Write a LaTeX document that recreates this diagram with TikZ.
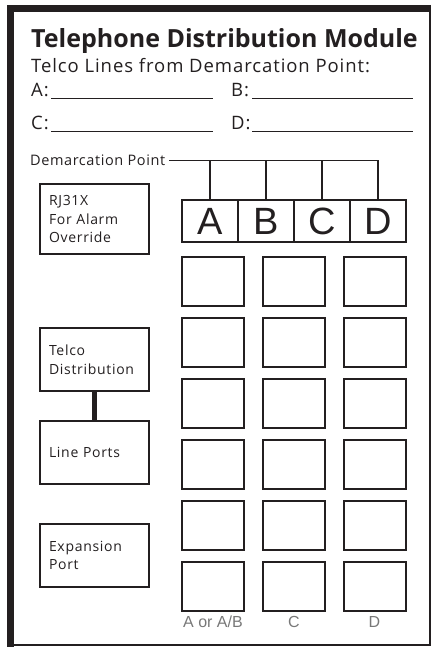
\documentclass[tikz,border=0pt]{standalone}
\usepackage{fontspec}
\setmainfont{Open Sans}
\newfontfamily\helv{Liberation Sans}
\usetikzlibrary{positioning}
\definecolor{ink}{RGB}{35,31,32}
\definecolor{faint}{RGB}{120,120,120}

\begin{document}
\begin{tikzpicture}[x=1pt, y=-1pt,
  sidebox/.style={draw=ink, line width=1.5pt, minimum width=109pt, minimum height=63pt,
    text width=91pt, inner xsep=9pt, align=left,
    font=\fontsize{14}{18.5}\selectfont\addfontfeatures{LetterSpace=5}, text=ink},
  port/.style={draw=ink, line width=2pt, minimum width=62pt, minimum height=49pt, inner sep=0pt},
  cell/.style={draw=ink, line width=1.5pt, minimum width=56pt, minimum height=42pt, inner sep=0pt,
    font=\helv\fontsize{38}{38}\selectfont, text=ink},
  wire/.style={draw=ink, line width=1.3pt},
  blank/.style={draw=ink, line width=1pt},
  collabel/.style={anchor=base, font=\helv\fontsize{16}{16}\selectfont, text=faint},
  label/.style={anchor=base west, inner sep=0pt, text=ink},
  lines/.style={label, font=\fontsize{18.5}{18.5}\selectfont\addfontfeatures{LetterSpace=5}}
]
\useasboundingbox (0,0) rectangle (434,647);
% frame
\fill[ink] (7,5) rectangle (14,647);
\fill[ink] (7,5) rectangle (431,12);
\draw[ink, line width=2pt] (430,5) -- (430,645) -- (7,645);
% heading
\node[label, font=\bfseries\fontsize{25}{25}\selectfont] (title) at (31,48) {Telephone Distribution Module};
\node[lines] (subtitle) at (31,73) {Telco Lines from Demarcation Point:};
\node[lines] (lineA) at (31,97) {A:};
\node[lines] (lineB) at (231,97) {B:};
\node[lines] (lineC) at (31,130) {C:};
\node[lines] (lineD) at (231,130) {D:};
\draw[blank] (51,98.5) -- (213,98.5);
\draw[blank] (252,98.5) -- (413,98.5);
\draw[blank] (51,131.5) -- (213,131.5);
\draw[blank] (252,131.5) -- (413,131.5);
% jacks A-D
\node[label, font=\fontsize{14.5}{15}\selectfont\addfontfeatures{LetterSpace=4}] (demarc) at (30,166) {Demarcation Point};
\foreach \n/\x in {A/210,B/266,C/322,D/378}
  \node[cell] (cell\n) at (\x,221) {\n};
\draw[wire] ([xshift=4pt]demarc.east |- 0,160.5) -| (cellD.north);
\foreach \n in {A,B,C}
  \draw[wire] (cellA.north -| cell\n.north) -- (cell\n.north |- 0,160.5);
% left boxes
\node[sidebox, minimum height=70pt] (rj) at (94.5,219) {RJ31X\\For Alarm\\Override};
\node[sidebox] (telco) at (94.5,359.5) {Telco\\Distribution};
\node[sidebox] (ports) at (94.5,452.5) {Line Ports};
\node[sidebox] (expand) at (94.5,555.5) {Expansion\\Port};
\draw[ink, line width=5pt] (telco.south) -- (ports.north);
% port grid
\foreach \r in {1,...,6}
  \foreach \c/\x in {1/213,2/294,3/374.5}
    \node[port] (p\r\c) at (\x,220.5+61*\r) {};
\node[collabel] (labAB) at (p61.south |- 0,627) {A or A/B};
\node[collabel] (labC) at (p62.south |- 0,627) {C};
\node[collabel] (labD) at (p63.south |- 0,627) {D};
\end{tikzpicture}
\end{document}
